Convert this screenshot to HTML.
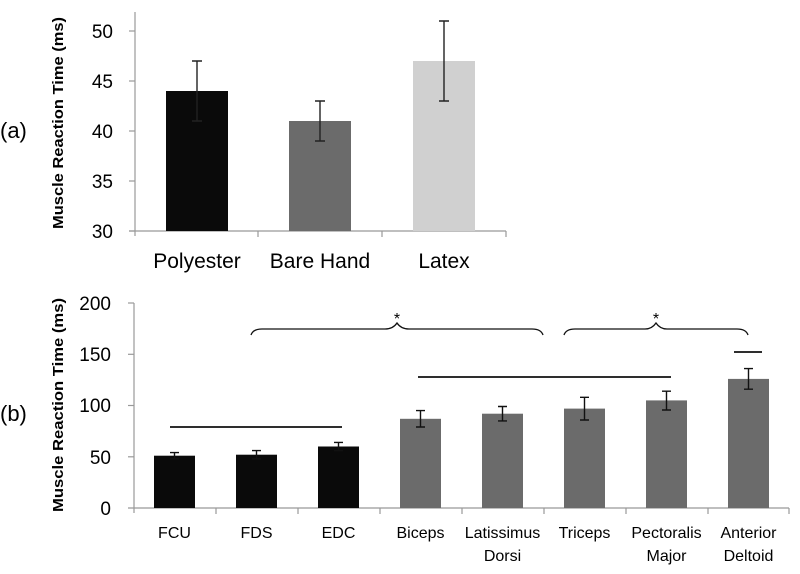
<!DOCTYPE html><html><head><style>body{margin:0;background:#fff}svg{display:block}text{font-family:"Liberation Sans",sans-serif;fill:#000}</style></head><body>
<svg width="800" height="574" viewBox="0 0 800 574">
<g font-size="22">
<text x="0" y="138">(a)</text><text x="0" y="421">(b)</text></g>
<!-- top chart -->
<g font-size="19" text-anchor="end">
<text x="113" y="38">50</text><text x="113" y="88">45</text><text x="113" y="138">40</text><text x="113" y="188">35</text><text x="113" y="238">30</text></g>
<g stroke="#999" stroke-width="1.2">
<line x1="135" y1="12" x2="135" y2="236"/><line x1="129" y1="31" x2="135" y2="31"/><line x1="129" y1="81" x2="135" y2="81"/><line x1="129" y1="131" x2="135" y2="131"/><line x1="129" y1="181" x2="135" y2="181"/><line x1="129" y1="231" x2="135" y2="231"/>
<line x1="129" y1="231" x2="506" y2="231"/><line x1="258" y1="231" x2="258" y2="237"/><line x1="382" y1="231" x2="382" y2="237"/><line x1="506" y1="231" x2="506" y2="237"/></g>
<rect x="166" y="91" width="62" height="140" fill="#0a0a0a"/>
<rect x="289" y="121" width="62" height="110" fill="#6b6b6b"/>
<rect x="413" y="61" width="62" height="170" fill="#d0d0d0"/>
<g stroke="#222" stroke-width="1.4">
<path d="M197 61V121M192 61h10M192 121h10"/>
<path d="M320 101V141M315 101h10M315 141h10"/>
<path d="M444 21V101M439 21h10M439 101h10"/></g>
<g font-size="21" text-anchor="middle"><text x="197" y="268">Polyester</text><text x="320" y="268">Bare Hand</text><text x="444" y="268">Latex</text></g>
<text transform="translate(63,123) rotate(-90)" font-size="15" font-weight="bold" text-anchor="middle" textLength="212" lengthAdjust="spacingAndGlyphs">Muscle Reaction Time (ms)</text>
<!-- bottom chart -->
<g font-size="19" text-anchor="end">
<text x="111" y="310">200</text><text x="111" y="361">150</text><text x="111" y="412">100</text><text x="111" y="464">50</text><text x="111" y="515">0</text></g>
<g stroke="#999" stroke-width="1.2">
<line x1="134" y1="303" x2="134" y2="513"/><line x1="128" y1="303" x2="134" y2="303"/><line x1="128" y1="354.3" x2="134" y2="354.3"/><line x1="128" y1="405.5" x2="134" y2="405.5"/><line x1="128" y1="456.8" x2="134" y2="456.8"/>
<line x1="128" y1="508" x2="789" y2="508"/>
<path d="M216 508v6M298 508v6M380 508v6M462 508v6M544 508v6M626 508v6M708 508v6M789 508v6"/></g>
<text transform="translate(63,405) rotate(-90)" font-size="15" font-weight="bold" text-anchor="middle" textLength="214" lengthAdjust="spacingAndGlyphs">Muscle Reaction Time (ms)</text>
<g fill="#0a0a0a">
<rect x="154" y="455.7" width="41" height="52.3"/><rect x="236" y="454.7" width="41" height="53.3"/><rect x="318" y="446.5" width="41" height="61.5"/></g>
<g fill="#6b6b6b">
<rect x="400" y="418.8" width="41" height="89.2"/><rect x="482" y="413.7" width="41" height="94.3"/><rect x="564" y="408.6" width="41" height="99.4"/><rect x="646" y="400.4" width="41" height="107.6"/><rect x="728" y="378.9" width="41" height="129.1"/></g>
<g stroke="#111" stroke-width="1.4">
<path d="M174.5 452.6V458.8M170 452.6h9M170 458.8h9"/>
<path d="M256.5 450.6V458.8M252 450.6h9M252 458.8h9"/>
<path d="M338.5 442.4V450.6M334 442.4h9M334 450.6h9"/>
<path d="M420.5 410.6V427M416 410.6h9M416 427h9"/>
<path d="M502.5 406.5V420.9M498 406.5h9M498 420.9h9"/>
<path d="M584.5 397.3V420M580 397.3h9M580 420h9"/>
<path d="M666.5 391.2V410M662 391.2h9M662 410h9"/>
<path d="M748.5 368.6V389.2M744 368.6h9M744 389.2h9"/>
<path d="M170 427H342M418 377H671M734 352H762" stroke-width="1.8"/>
</g>
<g fill="none" stroke="#111" stroke-width="1.3">
<path d="M251 335Q253 329 262 329H385Q393 329 397 323Q401 329 409 329H532Q541 329 543 335"/>
<path d="M564 335Q566 329 575 329H645Q652 329 656 323Q660 329 667 329H737Q746 329 748 335"/></g>
<g font-size="16" text-anchor="middle"><text x="397" y="324">*</text><text x="656" y="324">*</text></g>
<g font-size="16" text-anchor="middle">
<text x="174.5" y="538">FCU</text><text x="256.5" y="538">FDS</text><text x="338.5" y="538">EDC</text><text x="420.5" y="538">Biceps</text><text x="502.5" y="538">Latissimus</text><text x="502.5" y="561">Dorsi</text><text x="584.5" y="538">Triceps</text><text x="666.5" y="538">Pectoralis</text><text x="666.5" y="561">Major</text><text x="748.5" y="538">Anterior</text><text x="748.5" y="561">Deltoid</text></g>
</svg></body></html>
